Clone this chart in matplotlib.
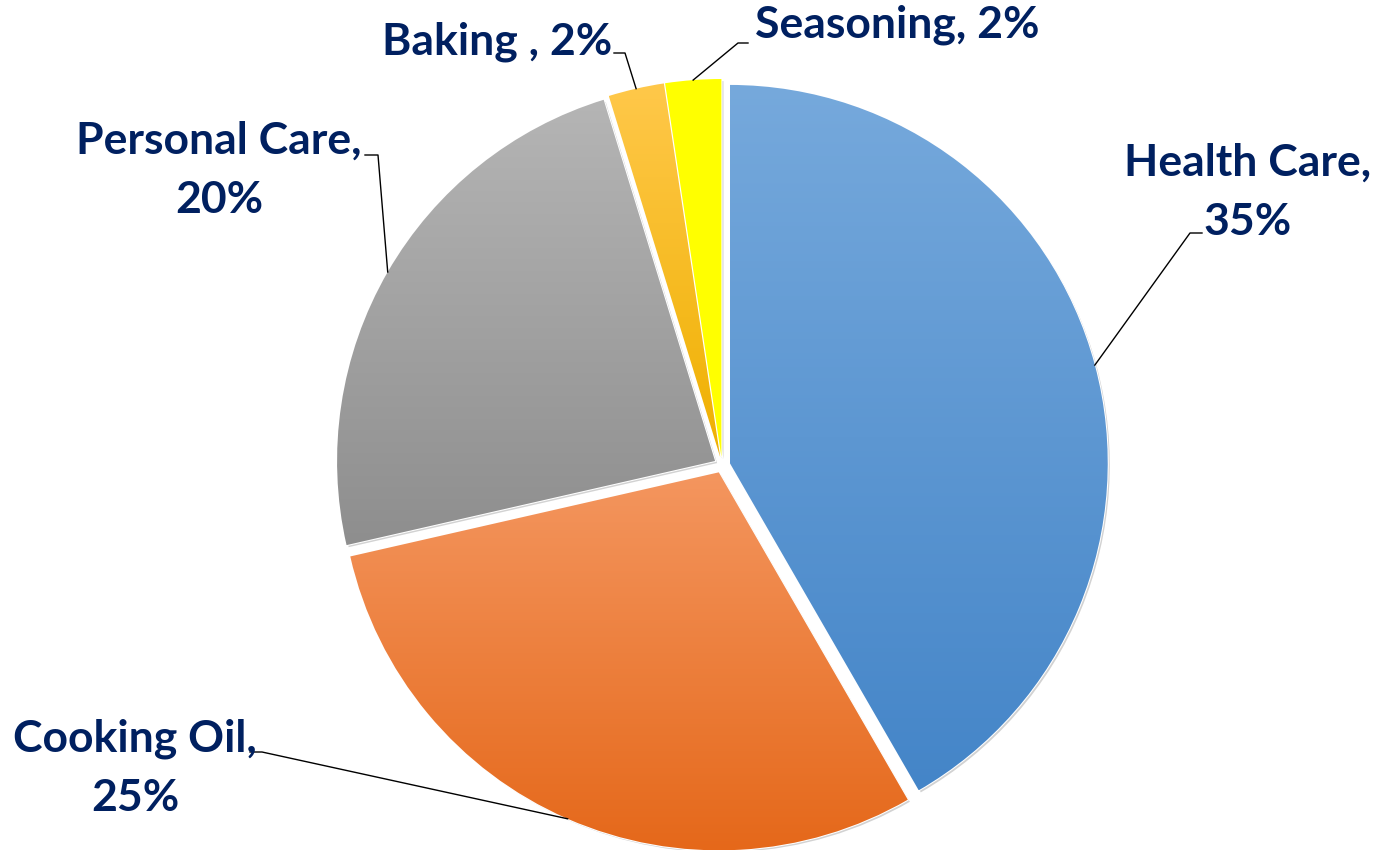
import numpy as np
import matplotlib
matplotlib.use("Agg")
import matplotlib.pyplot as plt
import matplotlib.patheffects as pe
from matplotlib.colors import LinearSegmentedColormap

# data
categories = ["Health Care", "Cooking Oil", "Personal Care", "Baking ", "Seasoning"]
shares = [35, 25, 20, 2, 2]
label_lines = ["Health Care,\n35%", "Cooking Oil,\n25%", "Personal Care,\n20%",
               "Baking , 2%", "Seasoning, 2%"]

# gradient colours per slice (top, bottom)
grad_top = ["#76A9DC", "#F4965F", "#B5B5B5", "#FFC84A", "#FFFF00"]
grad_bot = ["#4485C8", "#E5681A", "#8E8E8E", "#EFB000", "#FFFF00"]

W, H = 1376, 850
TEXT_COLOR = "#002060"

# label centres and leader elbows in image pixels (y down)
label_pos = [(1248, 192), (135, 768), (219, 170), (497, 42), (897, 25)]
elbows = [[(1202, 233), (1190, 233)],
          [(250, 752), (262, 752)],
          [(365, 155), (378, 155)],
          [(614, 53), (625, 53)],
          [(748, 43), (738, 43)]]

fig = plt.figure(figsize=(W / 100, H / 100), dpi=100)
ax = fig.add_axes([0, 0, 1, 1])

cx, cy, R = 722, H - 465, 378
explode = [8] * len(shares)  # pie explode is in data units here (pixels)

wedges, _ = ax.pie(shares, startangle=90, counterclock=False, center=(cx, cy),
                   radius=R, explode=explode, frame=True,
                   wedgeprops=dict(edgecolor="white", linewidth=1.5))
ax.set_aspect("auto")
ax.axis("off")

for i, w in enumerate(wedges):
    w.set_path_effects([pe.SimplePatchShadow(offset=(1.5, -1.5), alpha=0.35,
                                             shadow_rgbFace="#808080"),
                        pe.Normal()])
    bb = w.get_path().get_extents(w.get_transform() - ax.transData)
    cmap = LinearSegmentedColormap.from_list("g%d" % i, [grad_bot[i], grad_top[i]])
    grad = np.linspace(0, 1, 256).reshape(-1, 1)
    im = ax.imshow(grad, cmap=cmap, origin="lower", aspect="auto",
                   extent=(bb.x0, bb.x1, bb.y0, bb.y1), zorder=w.get_zorder() + 0.1,
                   interpolation="bilinear")
    im.set_clip_path(w)

ax.set_xlim(0, W)
ax.set_ylim(0, H)

# labels and leader lines
for i, w in enumerate(wedges):
    mid = np.deg2rad((w.theta1 + w.theta2) / 2)
    wx, wy = w.center
    ax_pt = (wx + w.r * np.cos(mid), wy + w.r * np.sin(mid))
    pts = [ax_pt] + [(x, H - y) for x, y in elbows[i]][::-1]
    ax.plot([p[0] for p in pts], [p[1] for p in pts], color="black",
            linewidth=1.0, zorder=5)
    lx, ly = label_pos[i]
    ax.text(lx, H - ly, label_lines[i], ha="center", va="center",
            fontsize=32, fontweight="bold", family=["Lato", "DejaVu Sans"],
            color=TEXT_COLOR, linespacing=1.58, zorder=6)

fig.savefig("out.png", dpi=100)
